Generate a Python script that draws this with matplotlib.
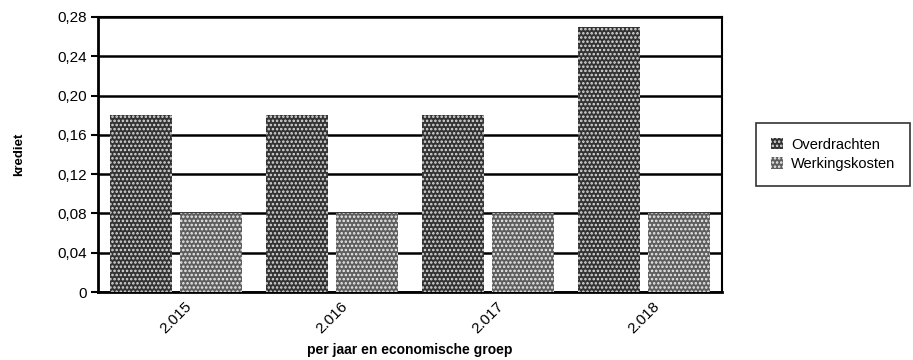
import matplotlib as mpl

mpl.use('agg')
import matplotlib.pyplot as plt
import numpy as np

years = ['2.015', '2.016', '2.017', '2.018']
overdrachten = [0.18, 0.18, 0.18, 0.27]
werkingskosten = [0.08, 0.08, 0.08, 0.08]
yticks = [0, 0.04, 0.08, 0.12, 0.16, 0.20, 0.24, 0.28]

plt.rcParams['font.family'] = ['Liberation Sans', 'DejaVu Sans']
plt.rcParams['hatch.linewidth'] = 1.2

fig = plt.figure(figsize=(9.13, 3.6), dpi=100)
ax = fig.add_axes([98 / 913, 68 / 360, 624 / 913, 275 / 360])

x = np.arange(len(years))
w = 0.4
b1 = ax.bar(x - 0.225, overdrachten, w, color='#333333', edgecolor='#dddddd',
            hatch='....', linewidth=0, label='Overdrachten', zorder=3)
b2 = ax.bar(x + 0.225, werkingskosten, w, color='#5e5e5e', edgecolor='#eeeeee',
            hatch='....', linewidth=0, label='Werkingskosten', zorder=3)

ax.set_xlim(-0.5, 3.5)
ax.set_ylim(0, 0.28)
ax.set_yticks(yticks)
ax.set_yticklabels(['0' if v == 0 else ('%.2f' % v).replace('.', ',') for v in yticks],
                   fontsize=11)
ax.set_xticks(x)
ax.set_xticklabels(years, rotation=45, ha='center', fontsize=11)
ax.tick_params(axis='x', length=0, pad=5)
ax.tick_params(axis='y', length=5, width=1.5, direction='out', pad=3)

ax.grid(axis='y', color='black', linewidth=1.8, zorder=1)
for s in ['left', 'bottom']:
    ax.spines[s].set_linewidth(2)
for s in ['top', 'right']:
    ax.spines[s].set_linewidth(1.5)

ax.set_ylabel('krediet', fontsize=9.5, fontweight='bold', labelpad=23)
ax.set_xlabel('per jaar en economische groep', fontsize=10, fontweight='bold', labelpad=5)

leg = ax.legend(loc='center left', bbox_to_anchor=(1.055, 0.5), fontsize=10.5,
                frameon=True, fancybox=False, edgecolor='black',
                handlelength=0.8, handleheight=0.8, handletextpad=0.6,
                borderpad=1.0, labelspacing=0.35, borderaxespad=0)
leg.get_frame().set_linewidth(1.2)

fig.savefig('out.png', dpi=100)
